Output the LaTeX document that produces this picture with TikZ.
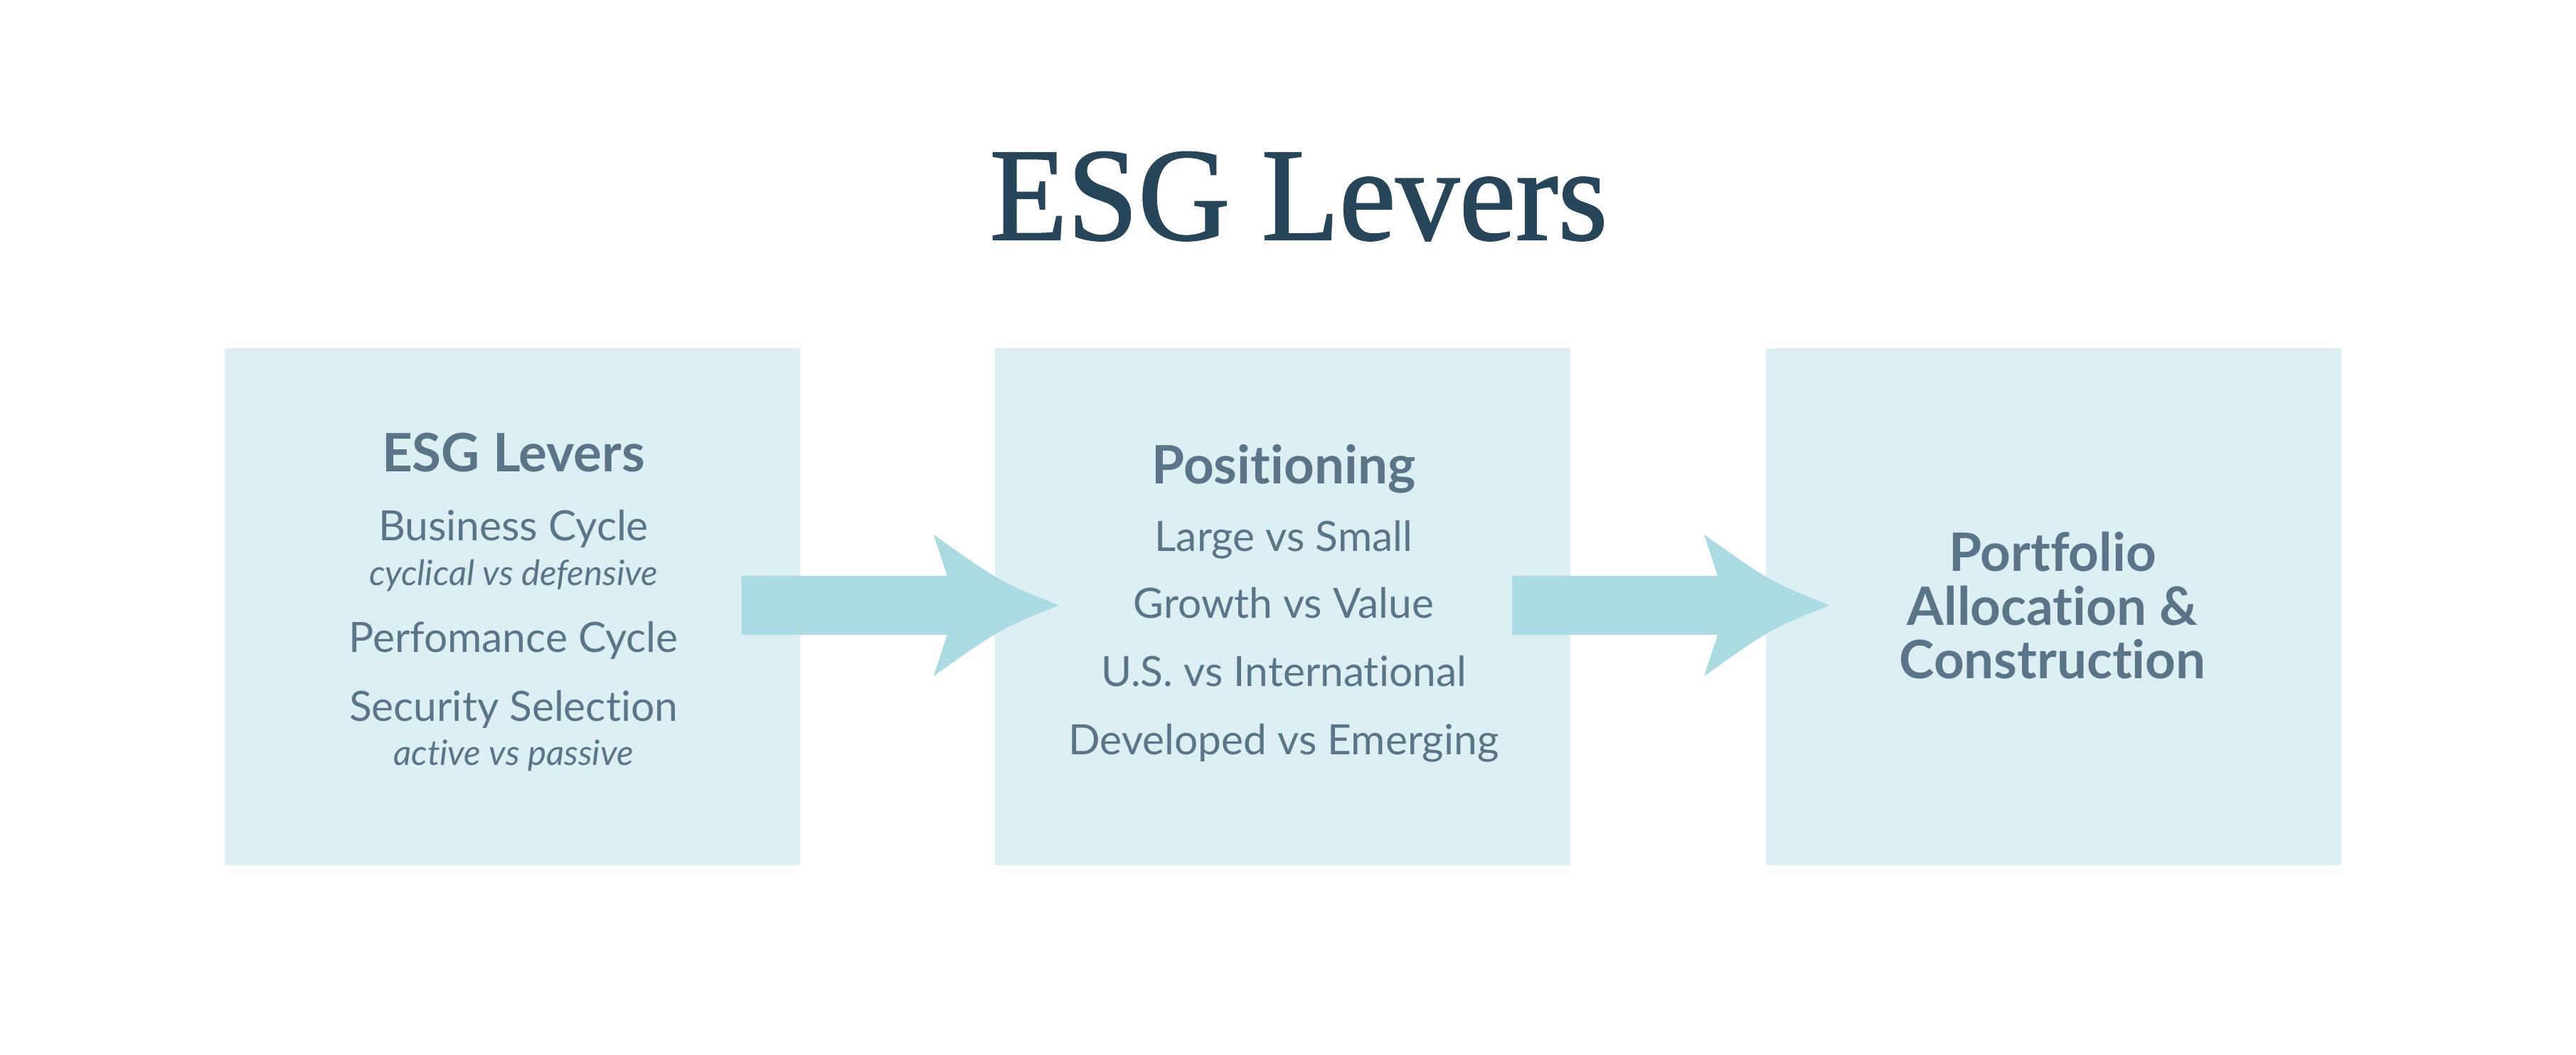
\documentclass[tikz,border=0pt]{standalone}
\usepackage{fontspec}
\setmainfont{Lato}[Ligatures=NoCommon]
\newfontfamily\titlefont[FakeStretch=0.96,FakeBold=1.2]{Liberation Serif}
\usetikzlibrary{positioning}

\definecolor{titleblue}{HTML}{284659}
\definecolor{textblue}{HTML}{5A7588}
\definecolor{panelfill}{HTML}{DCEFF3}
\definecolor{arrowfill}{HTML}{AADBE2}

% wide arrow with swept head, #1 = start of the shaft
\newcommand{\leverarrow}[1]{%
  \fill[arrowfill,shift={(#1)}] (0,0.415) -- (2.89,0.415) -- (2.70,0.995)
    .. controls (3.63,0.335) .. (4.46,0)
    .. controls (3.63,-0.335) .. (2.70,-0.995)
    -- (2.89,-0.415) -- (0,-0.415) -- cycle;}

\begin{document}
\begin{tikzpicture}[panel/.style={fill=panelfill,minimum width=8.09cm,
	minimum height=7.27cm,inner sep=0pt},
	head/.style={text=textblue,font=\fontsize{21.2}{25}\selectfont\bfseries,anchor=base},
	item/.style={text=textblue,font=\fontsize{16.7}{19}\selectfont,anchor=base},
	note/.style={text=textblue,font=\fontsize{14}{17}\selectfont\itshape,anchor=base},
	node distance=2.73cm]
	\fill[white] (0,0) rectangle (36.22,14.84);
	\node[text=titleblue,font=\titlefont\fontsize{53}{60}\selectfont,anchor=base]
		(title) at (18.26,11.47) {ESG Levers};
	
	\node[panel](levers) at (7.205,6.305) {};
	\node[panel](posit)[right=of levers] {};
	\node[panel](alloc)[right=of posit] {};
	
	\leverarrow{[xshift=-8.3mm,yshift=0.2mm]levers.east}
	\leverarrow{[xshift=-8.3mm,yshift=0.2mm]posit.east}
	
	\node[head](levhead) at (7.22,8.20) {ESG Levers};
	\node[item](lev1) at (7.22,7.23) {Business Cycle};
	\node[note](lev1note) at (7.22,6.60) {cyclical vs defensive};
	\node[item](lev2) at (7.22,5.66) {Perfomance Cycle};
	\node[item](lev3) at (7.22,4.69) {Security Selection};
	\node[note](lev3note) at (7.22,4.07) {active vs passive};
	
	\node[head](poshead) at (18.05,8.03) {Positioning};
	\node[item](pos1) at (18.05,7.08) {Large vs Small};
	\node[item](pos2) at (18.05,6.14) {Growth vs Value};
	\node[item](pos3) at (18.05,5.18) {U.S. vs International};
	\node[item](pos4) at (18.05,4.22) {Developed vs Emerging};
	
	\node[head](alloc1) at (28.86,6.80) {Portfolio};
	\node[head](alloc2) at (28.86,6.04) {Allocation \&};
	\node[head](alloc3) at (28.86,5.29) {Construction};
\end{tikzpicture}
\end{document}
